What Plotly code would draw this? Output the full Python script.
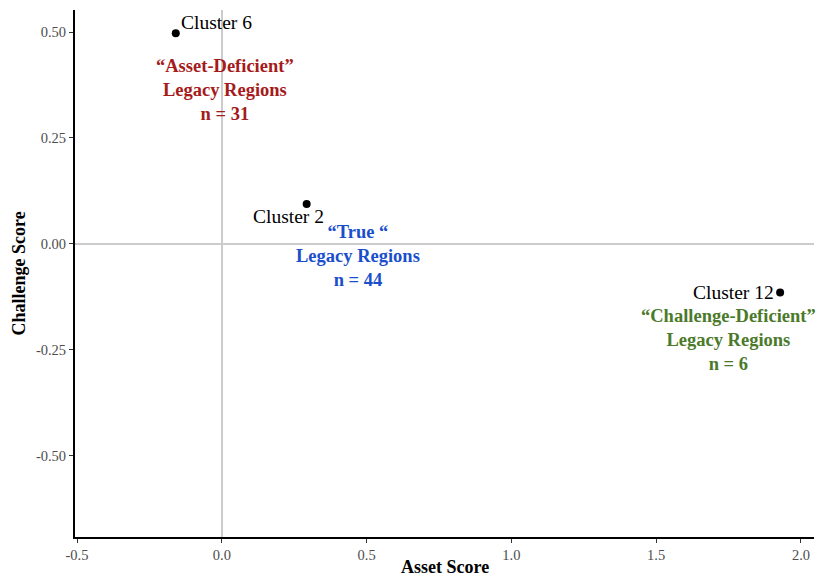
import plotly.graph_objects as go

clusters = ["Cluster 6", "Cluster 2", "Cluster 12"]
asset_scores = [-0.159, 0.293, 1.928]
challenge_scores = [0.497, 0.094, -0.115]

group_titles = ["“Asset-Deficient”", "“True “", "“Challenge-Deficient”"]
group_n = [31, 44, 6]

x_ticks = [-0.5, 0.0, 0.5, 1.0, 1.5, 2.0]
x_tick_labels = ["-0.5", "0.0", "0.5", "1.0", "1.5", "2.0"]
y_ticks = [-0.5, -0.25, 0.0, 0.25, 0.5]
y_tick_labels = ["-0.50", "-0.25", "0.00", "0.25", "0.50"]

FONT = "Liberation Serif"

fig = go.Figure()
fig.add_trace(go.Scatter(
    x=asset_scores, y=challenge_scores, mode="markers",
    marker=dict(color="black", size=8), showlegend=False, hoverinfo="skip"))

label_style = [
    dict(xanchor="left", xshift=3, yshift=11),
    dict(xanchor="right", xshift=19, yshift=-12),
    dict(xanchor="right", xshift=-4, yshift=0),
]
for name, xv, yv, st in zip(clusters, asset_scores, challenge_scores, label_style):
    fig.add_annotation(x=xv, y=yv, text=name, showarrow=False, yanchor="middle",
                       font=dict(family=FONT, size=19.5, color="black"), **st)

group_pos = [(0.01, 0.362), (0.469, -0.028), (1.748, -0.226)]
group_colors = ["#A51B1B", "#1A4FCC", "#4B7A2A"]
for title, n, (gx, gy), col in zip(group_titles, group_n, group_pos, group_colors):
    fig.add_annotation(x=gx, y=gy, text=f"<b>{title}<br>Legacy Regions<br>n = {n}</b>",
                       showarrow=False, xanchor="center", yanchor="middle", align="center",
                       font=dict(family=FONT, size=18.5, color=col))

# axis titles
fig.add_annotation(xref="paper", yref="paper", x=0.5, y=0, yshift=-30,
                   xanchor="center", yanchor="middle", showarrow=False,
                   text="<b>Asset Score</b>", font=dict(family=FONT, size=18, color="black"))
fig.add_annotation(xref="paper", yref="paper", x=0, y=0.5, xshift=-57,
                   xanchor="center", yanchor="middle", showarrow=False, textangle=-90,
                   text="<b>Challenge Score</b>", font=dict(family=FONT, size=18, color="black"))

fig.update_layout(
    width=820, height=578,
    margin=dict(l=75, r=6, t=10, b=41),
    plot_bgcolor="white", paper_bgcolor="white",
    font=dict(family=FONT, color="#444444"),
    xaxis=dict(range=[-0.507, 2.045], tickvals=x_ticks, ticktext=x_tick_labels,
               automargin=False,
               showgrid=False, zeroline=True, zerolinecolor="#cccccc", zerolinewidth=1.5,
               showline=True, linecolor="black", linewidth=2, ticks="outside",
               ticklen=4, tickcolor="#333333", tickfont=dict(size=14.5, color="#4d4d4d")),
    yaxis=dict(range=[-0.692, 0.552], tickvals=y_ticks, ticktext=y_tick_labels,
               automargin=False,
               showgrid=False, zeroline=True, zerolinecolor="#cccccc", zerolinewidth=1.5,
               showline=True, linecolor="black", linewidth=2, ticks="outside",
               ticklen=4, tickcolor="#333333", tickfont=dict(size=14.5, color="#4d4d4d")),
)

fig.write_html("out.html", config={"displayModeBar": False},
               post_script="document.body.style.margin='0px';")
